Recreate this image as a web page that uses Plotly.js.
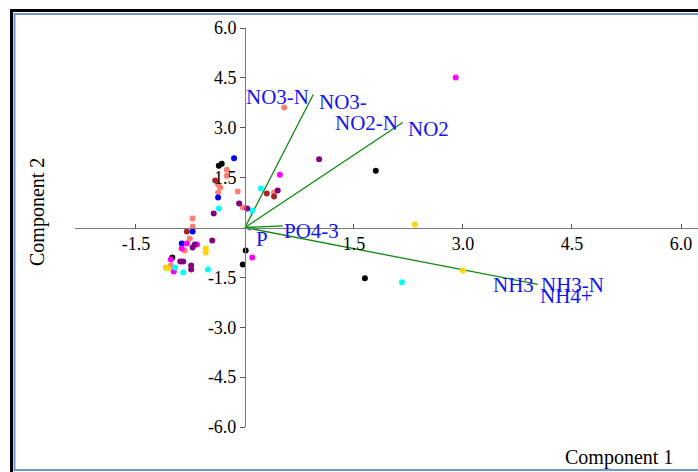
<!DOCTYPE html>
<html>
<head>
<meta charset="utf-8">
<script src="https://cdn.plot.ly/plotly-3.0.1.min.js"></script>
<style>html,body{margin:0;padding:0;background:#fff;}#chart{width:698px;height:472px;}</style>
</head>
<body>
<div id="chart"></div>
<script>
// ---- scores (points) by group colour ----
const blackX   = [1.80, 1.65, -0.36, -0.32, -1.00, 0.01, -0.03];
const blackY   = [1.71, -1.53, 1.86, 1.92, -0.90, -0.69, -1.11];
const salmonX  = [0.54, -0.10, 0.40, -0.03, -0.25, -0.25, -0.37, -0.34, -0.37, -0.72, -0.72, -0.76, -1.02, -0.83];
const salmonY  = [3.61, 1.08, 1.05, 0.60, 1.74, 1.56, 1.29, 1.20, 1.05, 0.27, 0.03, -0.33, -1.14, -0.69];
const blueX    = [-0.15, -0.37, -0.72, -0.87];
const blueY    = [2.08, 0.90, -0.12, -0.48];
const magentaX = [2.90, 0.48, 0.10, -0.80, -0.66, -0.87, -1.02, -0.98];
const magentaY = [4.51, 1.59, -0.90, -0.48, -0.51, -0.63, -0.96, -1.32];
const cyanX    = [2.16, 0.22, 0.10, -0.36, -0.96, -0.85, -0.51];
const cyanY    = [-1.65, 1.17, 0.51, 0.57, -1.20, -1.35, -1.26];
const purpleX  = [1.02, 0.45, -0.08, 0.03, -0.43, -0.45, -0.72, -0.89, -0.85, -0.74, -0.74, -0.69];
const purpleY  = [2.05, 1.11, 0.72, 0.57, 0.42, -0.39, -0.60, -1.02, -1.02, -1.14, -1.26, -0.51];
const darkredX = [0.30, 0.40, -0.41, -0.80];
const darkredY = [1.02, 0.93, 1.41, -0.12];
const goldX    = [2.34, 3.00, -0.54, -0.54, -1.09, -1.06];
const goldY    = [0.09, -1.29, -0.63, -0.75, -1.20, -1.23];

// ---- loading vectors ----
const vecX = [0.94, 2.17, 0.52, 4.03, 0.08];
const vecY = [4.00, 3.16, 0.05, -1.71, -0.08];

// ---- vector labels ----
const labText = ["NO3-N", "NO3-", "NO2-N", "NO2", "PO4-3", "P", "NH3", "NH3-N", "NH4+"];
const labX    = [0.45, 1.35, 1.67, 2.52, 0.92, 0.23, 3.69, 4.51, 4.42];
const labY    = [3.94, 3.76, 3.13, 2.95, -0.12, -0.36, -1.74, -1.74, -2.05];

// ---- ticks ----
const xTickVals = [-1.5, 1.5, 3.0, 4.5, 6.0];
const xTickText = ["-1.5", "1.5", "3.0", "4.5", "6.0"];
const yTickVals = [-6.0, -4.5, -3.0, -1.5, 1.5, 3.0, 4.5, 6.0];
const yTickText = ["-6.0", "-4.5", "-3.0", "-1.5", "1.5", "3.0", "4.5", "6.0"];

const xRange = [-2.339, 6.234];
const yRange = [-6, 6];

const groups = [
  [blackX, blackY, "#000000"],
  [salmonX, salmonY, "#FA8072"],
  [blueX, blueY, "#0000FF"],
  [magentaX, magentaY, "#FF00FF"],
  [cyanX, cyanY, "#00FFFF"],
  [purpleX, purpleY, "#800080"],
  [darkredX, darkredY, "#A0282A"],
  [goldX, goldY, "#FFD700"]
];

const traces = [];
for (let i = 0; i < vecX.length; i++) {
  traces.push({x: [0, vecX[i]], y: [0, vecY[i]], mode: "lines", type: "scatter",
    line: {color: "#0E8A0E", width: 1.3}, hoverinfo: "skip", showlegend: false});
}
groups.forEach(g => {
  traces.push({x: g[0], y: g[1], mode: "markers", type: "scatter",
    marker: {color: g[2], size: 6, line: {width: 0}}, showlegend: false});
});

const annotations = labText.map((t, i) => ({
  x: labX[i], y: labY[i], xref: "x", yref: "y", text: t, showarrow: false,
  font: {family: "Liberation Serif", size: 21, color: "#1414F0"},
  xanchor: "center", yanchor: "middle"
}));
const W = 698, H = 472, ml = 75, mr = 0, mt = 28, mb = 45;
const pw = W - ml - mr, ph = H - mt - mb;
const px2paper = p => (p - ml) / pw;
const py2paper = p => (H - mb - p) / ph;
annotations.push({x: px2paper(619), y: py2paper(457), xref: "paper", yref: "paper",
  text: "Component 1", showarrow: false, xanchor: "center", yanchor: "middle",
  font: {family: "Liberation Serif", size: 20, color: "#000"}});
annotations.push({x: px2paper(37), y: py2paper(212), xref: "paper", yref: "paper",
  text: "Component 2", showarrow: false, textangle: -90, xanchor: "center", yanchor: "middle",
  font: {family: "Liberation Serif", size: 20, color: "#000"}});

const shapes = [
  {type: "rect", xref: "paper", yref: "paper", x0: px2paper(11.5), x1: px2paper(710),
   y0: py2paper(490), y1: py2paper(10.5), line: {color: "#000", width: 3}, fillcolor: "rgba(0,0,0,0)"},
  {type: "rect", xref: "paper", yref: "paper", x0: px2paper(14.5), x1: px2paper(705),
   y0: py2paper(470), y1: py2paper(14), line: {color: "#6F95D2", width: 2}, fillcolor: "rgba(0,0,0,0)"}
];

const layout = {
  width: W, height: H,
  margin: {l: ml, r: mr, t: mt, b: mb, pad: 0},
  paper_bgcolor: "#fff", plot_bgcolor: "#fff",
  font: {family: "Liberation Serif", size: 18, color: "#000"},
  showlegend: false,
  xaxis: {range: xRange, anchor: "free", position: 0.5, showgrid: false, zeroline: false,
    showline: true, linecolor: "#7a7a7a", linewidth: 1.2, ticks: "inside", ticklen: 4,
    tickcolor: "#555", tickvals: xTickVals, ticktext: xTickText,
    tickfont: {family: "Liberation Serif", size: 18, color: "#000"}},
  yaxis: {range: yRange, anchor: "free", position: (0 - xRange[0]) / (xRange[1] - xRange[0]),
    showgrid: false, zeroline: false, showline: true, linecolor: "#7a7a7a", linewidth: 1.2,
    ticks: "outside", ticklen: 5, tickcolor: "#555", tickvals: yTickVals, ticktext: yTickText,
    tickfont: {family: "Liberation Serif", size: 18, color: "#000"}},
  annotations: annotations,
  shapes: shapes
};

Plotly.newPlot("chart", traces, layout, {displayModeBar: false, staticPlot: true});
</script>
</body>
</html>
